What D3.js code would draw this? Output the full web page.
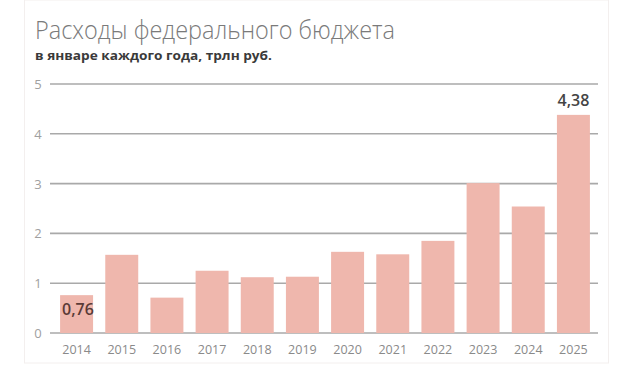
<!DOCTYPE html>
<html>
  <head>
    <meta charset="utf-8">
    <title>Расходы федерального бюджета</title>
    <script src="https://d3js.org/d3.v7.min.js"></script>
    <style>
      body { margin: 0; background: #fff; }
      text { font-family: "Open Sans", "Noto Sans", sans-serif; }
    </style>
  </head>
  <body>
    <svg width="620" height="367"></svg>

    <script>
      // data
      const years = ["2014", "2015", "2016", "2017", "2018", "2019",
                     "2020", "2021", "2022", "2023", "2024", "2025"];
      const spending = [0.76, 1.57, 0.71, 1.25, 1.12, 1.13,
                        1.63, 1.58, 1.85, 3.01, 2.54, 4.38];
      const yTicks = [0, 1, 2, 3, 4, 5];
      const labelled = { "2014": "0,76", "2025": "4,38" };

      const svg = d3.select("svg");

      // faint frame round the chart
      svg.append("rect")
        .attr("x", 24.5).attr("y", 0)
        .attr("width", 584).attr("height", 363)
        .attr("fill", "none")
        .attr("stroke", "#f3efee");

      svg.append("text")
        .attr("x", 35).attr("y", 39)
        .attr("font-size", 25)
        .attr("font-weight", 300)
        .attr("fill", "#7a7a7a")
        .attr("textLength", 360)
        .attr("lengthAdjust", "spacingAndGlyphs")
        .text("Расходы федерального бюджета");

      svg.append("text")
        .attr("x", 35).attr("y", 60)
        .attr("font-size", 12)
        .attr("font-weight", 700)
        .attr("fill", "#3a3a3a")
        .attr("textLength", 237)
        .attr("lengthAdjust", "spacingAndGlyphs")
        .text("в январе каждого года, трлн руб.");

      const x = d3.scaleBand()
        .domain(years)
        .range([54, 596])
        .paddingInner(0.27)
        .paddingOuter(0.135);

      const y = d3.scaleLinear()
        .domain([0, 5])
        .range([333, 84]);

      // gridlines
      svg.append("g")
        .selectAll("line")
        .data(yTicks)
        .join("line")
        .attr("x1", 50).attr("x2", 598)
        .attr("y1", d => y(d)).attr("y2", d => y(d))
        .attr("stroke", "#a9a9a9")
        .attr("stroke-width", 1.6);

      // y labels
      svg.append("g")
        .selectAll("text")
        .data(yTicks)
        .join("text")
        .attr("x", 38)
        .attr("y", d => y(d) + 5)
        .attr("text-anchor", "middle")
        .attr("font-size", 13)
        .attr("fill", "#a0a0a0")
        .text(d => d);

      // bars
      svg.append("g")
        .selectAll("rect")
        .data(years)
        .join("rect")
        .attr("x", d => x(d))
        .attr("width", x.bandwidth())
        .attr("y", (d, i) => y(spending[i]))
        .attr("height", (d, i) => y(0) - y(spending[i]))
        .attr("fill", "#efb7ad");

      // x labels
      svg.append("g")
        .selectAll("text")
        .data(years)
        .join("text")
        .attr("x", d => x(d) + x.bandwidth() / 2)
        .attr("y", 354)
        .attr("text-anchor", "middle")
        .attr("font-size", 12.5)
        .attr("fill", "#8a8a8a")
        .text(d => d);

      // value labels
      svg.append("text")
        .attr("x", x("2014") + 2)
        .attr("y", 315)
        .attr("font-size", 16)
        .attr("font-weight", 600)
        .attr("fill", "#5b3b37")
        .text(labelled["2014"]);

      const i25 = years.indexOf("2025");
      svg.append("text")
        .attr("x", x("2025") + x.bandwidth() / 2)
        .attr("y", y(spending[i25]) - 9)
        .attr("text-anchor", "middle")
        .attr("font-size", 16)
        .attr("font-weight", 600)
        .attr("fill", "#454545")
        .text(labelled["2025"]);
    </script>
  </body>
</html>
